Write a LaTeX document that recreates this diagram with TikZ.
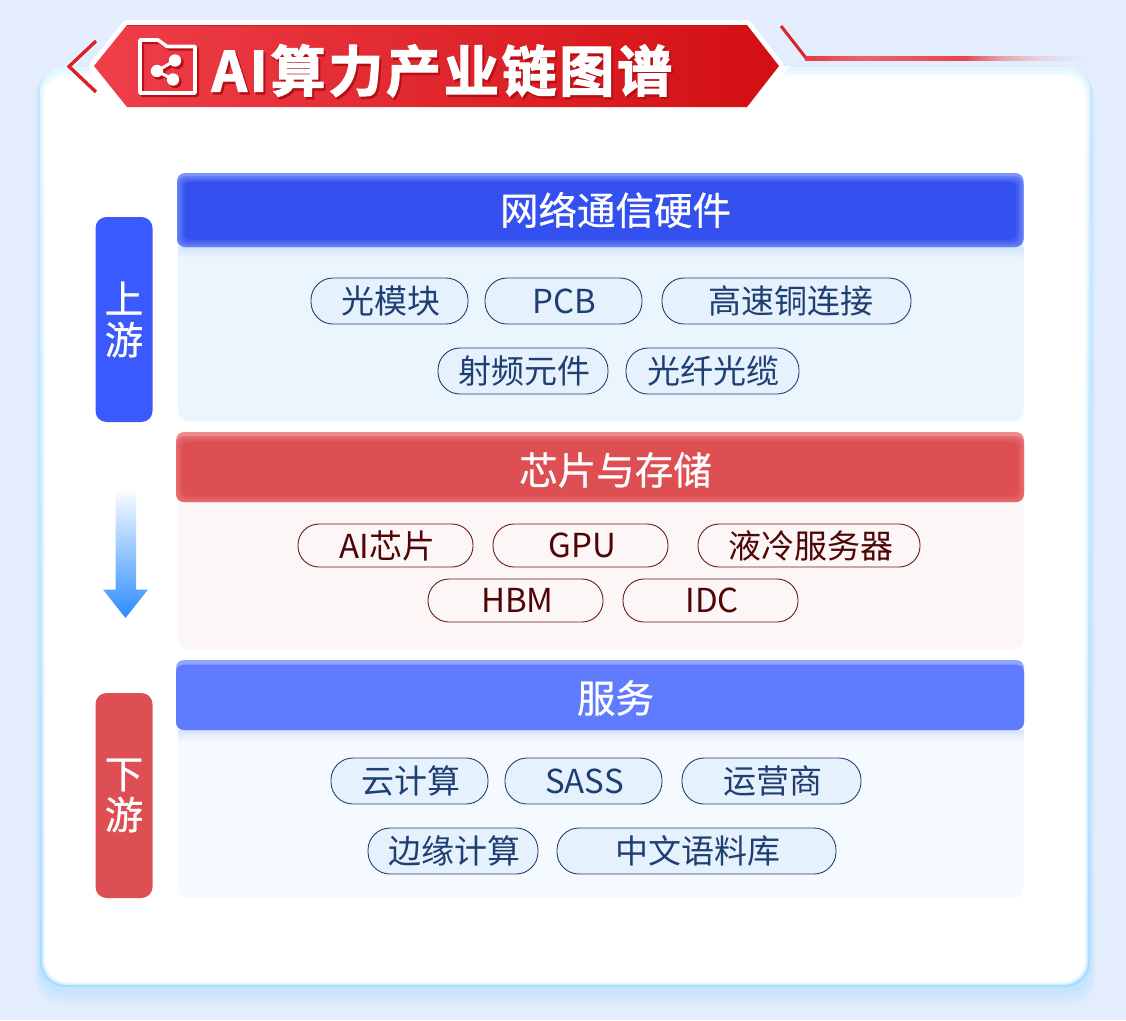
\documentclass[tikz,border=0pt]{standalone}
\usepackage{fontspec}
\setmainfont{Noto Sans CJK SC}
\newfontfamily\titlefont[LetterSpace=5,FakeBold=2.2]{Noto Sans CJK SC Bold}
\newfontfamily\headfont[FakeBold=0.7]{Noto Sans CJK SC}
\newfontfamily\sidefont[FakeBold=0.6]{Noto Sans CJK SC}
\definecolor{pagebg}{HTML}{E3EDFD}
\definecolor{bandtop}{HTML}{E2F7FF}
\definecolor{bandbot}{HTML}{A6DCFF}
\definecolor{bannerL}{HTML}{EE3F4A}
\definecolor{bannerR}{HTML}{D20F12}
\definecolor{bannerSh}{HTML}{B80F14}
\definecolor{chev}{HTML}{D9232B}
\definecolor{hblue}{HTML}{3450EF}
\definecolor{hblueL}{HTML}{6680F5}
\definecolor{hblueS}{HTML}{7D95F8}
\definecolor{hred}{HTML}{DD4F52}
\definecolor{hredL}{HTML}{E86B6F}
\definecolor{hredS}{HTML}{EE8B8F}
\definecolor{hperi}{HTML}{617BFF}
\definecolor{hperiS}{HTML}{90A5FB}
\definecolor{shadowb}{HTML}{D5E4FD}
\definecolor{bodyA}{HTML}{EBF5FE}
\definecolor{bodyB}{HTML}{FDF6F7}
\definecolor{bodyC}{HTML}{F4FAFF}
\definecolor{sideb}{HTML}{3A5AFD}
\definecolor{pillfill}{HTML}{E5F1FC}
\definecolor{pillline}{HTML}{27416F}
\definecolor{pilltext}{HTML}{1F3F73}
\definecolor{rpillline}{HTML}{6B1A1E}
\definecolor{rpilltext}{HTML}{4F0505}
\definecolor{arrowb}{HTML}{2A8CFF}
\definecolor{fadeA}{HTML}{E53A44}
\definecolor{fadeB}{HTML}{E9646C}
\definecolor{fadeC}{HTML}{E8434C}
\definecolor{fadeD}{HTML}{E8A0A8}
\definecolor{fadeE}{HTML}{E6D0DC}
\pgfdeclarehorizontalshading{linefadeb}{100bp}{
  color(0bp)=(fadeA); color(25bp)=(fadeA); color(35bp)=(fadeB); color(52bp)=(fadeC);
  color(58bp)=(fadeD); color(64bp)=(fadeE); color(72bp)=(pagebg); color(100bp)=(pagebg)
}
\tikzset{
  x=1pt,y=-1pt,
  pillbase/.style={line width=0.9pt,inner sep=0pt,font=\fontsize{33}{33}\selectfont,execute at end node={\egroup}},
  pill/.style={pillbase,draw=pillline,fill=pillfill,text=pilltext,rounded corners=22pt,minimum height=46pt,
    execute at begin node={\lower2.3pt\hbox\bgroup\kern2pt}},
  rpill/.style={pillbase,draw=rpillline,fill=bodyB,text=rpilltext,rounded corners=21pt,minimum height=43pt,
    execute at begin node={\lower2pt\hbox\bgroup\kern3.5pt}},
  headtext/.style={text=white,inner sep=0pt,font=\headfont\fontsize{38.5}{38.5}\selectfont},
  sidebox/.style={rounded corners=11pt,inner sep=0pt,minimum width=57pt,minimum height=205pt,
    text=white,align=center,font=\sidefont\fontsize{38.5}{41}\selectfont},
  foldline/.style={line width=3.6pt,line join=round},
}
\begin{document}
\begin{tikzpicture}
\useasboundingbox (0,0) rectangle (1126,1020);
\fill[pagebg] (0,0) rectangle (1126,1020);
% card shadow
\foreach \d in {18,14,10,6}{
  \fill[bandbot,opacity=.14,rounded corners=26pt] (40-\d/4,70) rectangle (1090+\d/4,986+\d);
}
% card band and white inside
\shade[top color=bandtop,bottom color=bandbot,rounded corners=25pt] (40,67) rectangle (1090,987);
\fill[white,opacity=.45,rounded corners=24pt] (42,71) rectangle (1088,985);
\fill[white,opacity=.6,rounded corners=23pt] (43.5,74) rectangle (1086.5,984);
\fill[white,rounded corners=22pt] (45,76) rectangle (1085,982);
% right decoration line
\draw[chev,line width=3pt] (781,26) -- (806,58);
\shade[shading=linefadeb] (805,56.4) rectangle (1100,60);
% left chevron
\draw[white,opacity=.6,line width=6pt] (96,41) -- (69,66.5) -- (96,92);
\draw[chev,line width=3.4pt,miter limit=10] (96,41) -- (69,66.5) -- (96,92);
% banner
\draw[white,line width=10pt,line join=round,fill=white] (94,66) -- (127,25) -- (747,25) -- (779,66) -- (747,107) -- (127,107) -- cycle;
\fill[white] (90,66) -- (127,107) -- (747,107) -- (779,66) -- (790,66) -- (750,115) -- (120,115) -- cycle;
\shade[left color=bannerL,right color=bannerR] (94,66) -- (127,25) -- (747,25) -- (779,66) -- (747,107) -- (127,107) -- cycle;
\draw[bannerSh,opacity=.6,line width=1pt] (127,25.5) -- (747,25.5);
% icon shadow
\begin{scope}[shift={(2.2,2.2)},bannerSh]
  \draw[foldline] (140,40) -- (158,40) -- (167,46.5) -- (195,46.5) -- (195,93) -- (140,93) -- cycle;
  \fill (157,71) circle (6.5) (175,60.5) circle (6.5) (173,79.5) circle (6.5);
  \draw[line width=3pt] (175,60.5) -- (157,71) -- (173,79.5);
\end{scope}
% icon
\draw[foldline,white] (140,40) -- (158,40) -- (167,46.5) -- (195,46.5) -- (195,93) -- (140,93) -- cycle;
\fill[white] (157,71) circle (6.2) (175,60.5) circle (6.2) (173,79.5) circle (6.2);
\draw[white,line width=3pt] (175,60.5) -- (157,71) -- (173,79.5);
% title, with its drop shadow in the same node
\node[anchor=west,inner sep=0pt,text=white,font=\titlefont\fontsize{55}{55}\selectfont] (title) at (211.5,72)
  {\rlap{\kern2pt\lower2.5pt\hbox{\textcolor{bannerSh}{AI算力产业链图谱}}}AI算力产业链图谱};
% side labels
\node[sidebox,fill=sideb] (up) at (124,319.5) {\raisebox{-30pt}{\parbox{57pt}{\centering 上\\游}}};
\node[sidebox,fill=hred] (down) at (124,795.5) {\raisebox{-30pt}{\parbox{57pt}{\centering 下\\游}}};
% arrow
\shade[top color=white,bottom color=arrowb] (115.5,487) -- (136,487) -- (136,589.5) -- (148,589.5) -- (125.5,618) -- (103,589.5) -- (115.5,589.5) -- cycle;
% blue section
\fill[bodyA,rounded corners=10pt] (178,235) rectangle (1023.5,421);
\shade[top color=shadowb,bottom color=bodyA] (178,247) rectangle (1023.5,258);
\fill[hblueS,rounded corners=8pt] (177,173) rectangle (1023.5,247);
\fill[hblueL,rounded corners=8pt] (177,176) rectangle (1023.5,247);
\foreach \i/\p in {1.5/20,3/40,4.5/60,6/80,7.5/100}{
  \fill[hblue!\p!hblueL,rounded corners=7pt] (177+\i,176+\i*.8) rectangle (1023.5-\i,247-\i);
}
\node[headtext] (h1) at (615.5,210) {网络通信硬件};
\node[pill,minimum width=157pt] (a1) at (389.5,301) {光模块};
\node[pill,minimum width=157pt] (a2) at (563.5,301) {PCB};
\node[pill,minimum width=249pt] (a3) at (786.5,301) {\kern6pt 高速铜连接};
\node[pill,minimum width=170pt] (a4) at (523,371) {射频元件};
\node[pill,minimum width=173pt] (a5) at (712.5,371) {光纤光缆};
% red section
\fill[bodyB,rounded corners=10pt] (178,490) rectangle (1023.5,649);
\fill[hredS,rounded corners=8pt] (176,432) rectangle (1024,502);
\fill[hredL,rounded corners=8pt] (176,436) rectangle (1024,502);
\foreach \i/\p in {1.5/25,3/50,4.5/75,6/100}{
  \fill[hred!\p!hredL,rounded corners=7pt] (176+\i,436+\i) rectangle (1024-\i,502-\i);
}
\node[headtext] (h2) at (615.5,470) {芯片与存储};
\node[rpill,minimum width=175pt] (b1) at (385.5,545.5) {AI芯片};
\node[rpill,minimum width=175pt] (b2) at (580.5,545.5) {GPU};
\node[rpill,minimum width=222pt] (b3) at (809,545.5) {液冷服务器};
\node[rpill,minimum width=175pt] (b4) at (515.5,600.5) {HBM};
\node[rpill,minimum width=175pt] (b5) at (710.5,600.5) {IDC};
% periwinkle section
\fill[bodyC,rounded corners=10pt] (178,718) rectangle (1023.5,898);
\shade[top color=shadowb,bottom color=bodyC] (178,730) rectangle (1023.5,741);
\fill[hperiS,rounded corners=8pt] (176,660) rectangle (1024,730);
\fill[hperi,rounded corners=8pt] (176,664.5) rectangle (1024,730);
\node[headtext] (h3) at (615.5,698) {服务};
\node[pill,minimum width=157pt] (c1) at (409.5,781) {云计算};
\node[pill,minimum width=157pt] (c2) at (583.5,781) {SASS};
\node[pill,minimum width=179pt] (c3) at (771.5,781) {运营商};
\node[pill,minimum width=170pt] (c4) at (453,851) {边缘计算};
\node[pill,minimum width=279pt] (c5) at (696.5,851) {中文语料库};
\end{tikzpicture}
\end{document}
